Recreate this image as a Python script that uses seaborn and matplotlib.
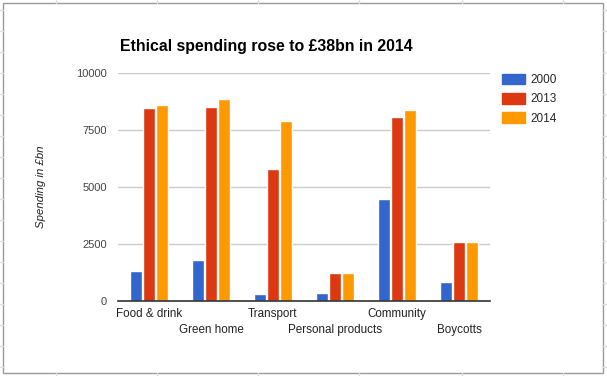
import numpy as np
import pandas as pd
import matplotlib.pyplot as plt
import matplotlib.patches as mpatches
from matplotlib.lines import Line2D
import seaborn as sns

# Values (£bn as labelled)
categories = ["Food & drink", "Green home", "Transport",
              "Personal products", "Community", "Boycotts"]
years = ["2000", "2013", "2014"]
spend_2000 = [1320, 1800, 310, 350, 4470, 830]
spend_2013 = [8470, 8510, 5790, 1230, 8070, 2590]
spend_2014 = [8600, 8860, 7900, 1230, 8380, 2590]
y_ticks = [0, 2500, 5000, 7500, 10000]

colors = ["#3366cc", "#dc3912", "#ff9900"]

df = pd.DataFrame({
    "category": categories * 3,
    "year": np.repeat(years, len(categories)),
    "spending": spend_2000 + spend_2013 + spend_2014,
})

sns.set_style("white")
plt.rcParams["font.family"] = ["Liberation Sans", "DejaVu Sans"]

W, H = 607, 376
fig = plt.figure(figsize=(W / 100, H / 100), dpi=100)
ax = fig.add_axes([118 / W, 1 - 301 / H, (490 - 118) / W, (301 - 73) / H])

sns.barplot(
    data=df, x="category", y="spending", hue="year",
    palette=colors, saturation=1, width=0.64, gap=0.08,
    order=categories, hue_order=years, legend=False, ax=ax,
)

ax.set_ylim(0, 10000)
ax.set_xlim(-0.5, len(categories) - 0.5)
ax.set_yticks(y_ticks)
ax.set_yticklabels([str(t) for t in y_ticks], color="#444444", fontsize=8)
ax.yaxis.grid(True, color="#cccccc", linewidth=1)
ax.set_axisbelow(True)
for side in ["left", "right", "top"]:
    ax.spines[side].set_visible(False)
ax.spines["bottom"].set_color("#333333")
ax.spines["bottom"].set_linewidth(1.2)
ax.tick_params(axis="both", length=0, pad=8)

# staggered category labels, like the original
ax.set_xticks(range(len(categories)))
ax.set_xticklabels(categories, fontsize=8.4, color="#222222")
for i, tick in enumerate(ax.xaxis.get_major_ticks()):
    tick.set_pad(5 if i % 2 == 0 else 16.5)
ax.set_xlabel("")
ax.set_ylabel("Spending in £bn", fontsize=8.2, style="italic",
              color="#222222", labelpad=22)

fig.text(120 / W, 1 - 47 / H, "Ethical spending rose to £38bn in 2014",
         fontsize=11.4, fontweight="bold", color="black",
         ha="left", va="center")

handles = [mpatches.Patch(color=c, label=y) for c, y in zip(colors, years)]
fig.legend(handles=handles, loc="upper left",
           bbox_to_anchor=(491 / W, 1 - 63 / H), frameon=False,
           fontsize=8.5, handlelength=2.0, handleheight=1.0,
           handletextpad=0.45, labelspacing=0.6)

# chart frame and the spreadsheet grid peeking out around it
fig.add_artist(mpatches.Rectangle((3 / W, 1 - 373 / H), 600 / W, 370 / H,
                                  transform=fig.transFigure, fill=False,
                                  edgecolor="#9a9a9a", linewidth=1))
for x in [56, 157, 258, 359, 462, 563]:
    for y0, y1 in [(0, 3), (373, 376)]:
        fig.add_artist(Line2D([x / W, x / W], [1 - y0 / H, 1 - y1 / H],
                              color="#dddddd", linewidth=1))
for y in range(10, 376, 21):
    for x0, x1 in [(0, 3), (603, 607)]:
        fig.add_artist(Line2D([x0 / W, x1 / W], [1 - y / H, 1 - y / H],
                              color="#dddddd", linewidth=1))

fig.savefig("out.png", dpi=100)
